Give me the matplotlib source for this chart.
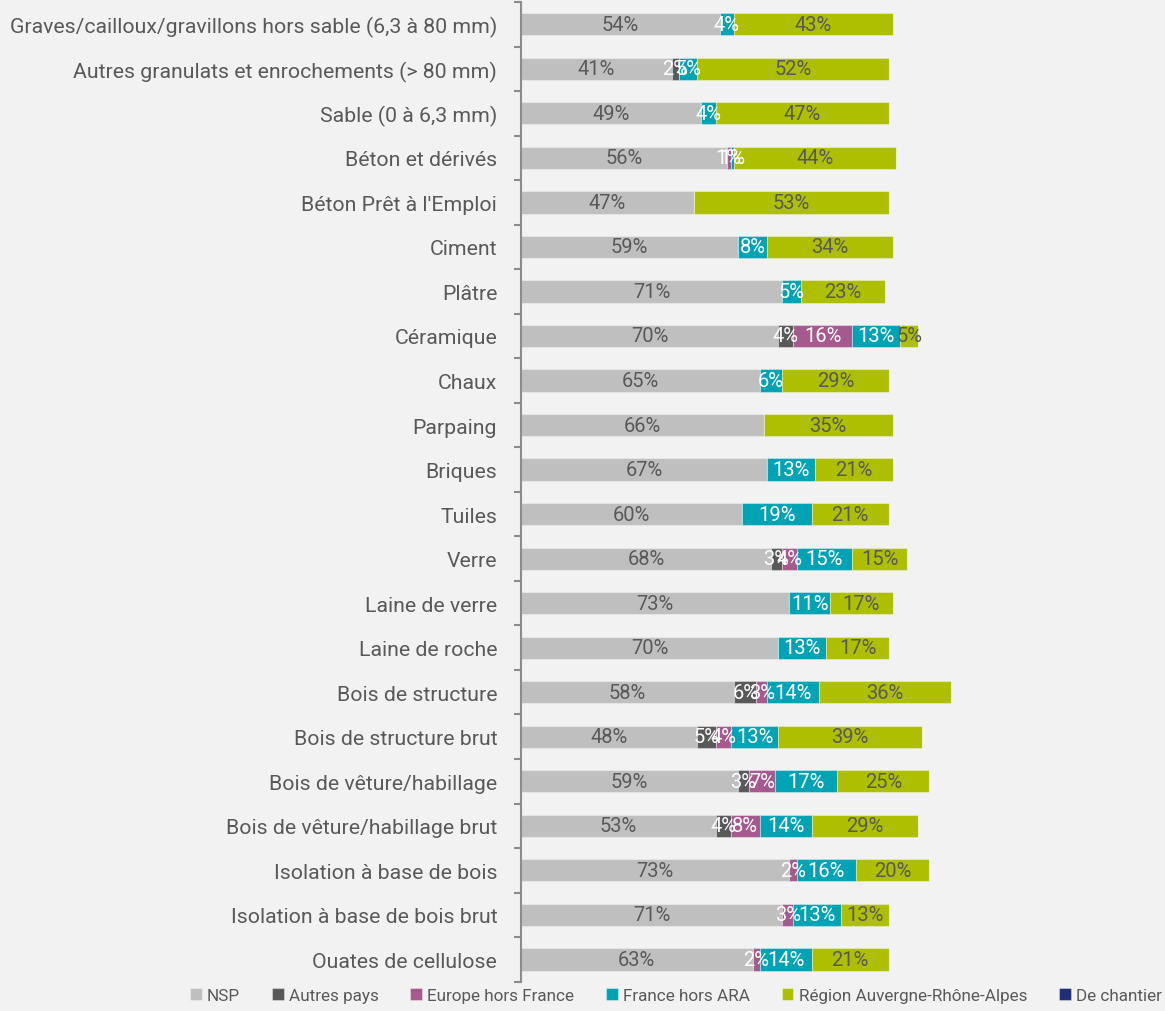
import matplotlib.pyplot as plt
import numpy as np

plt.rcParams["font.family"] = ["Roboto", "DejaVu Sans"]

categories = [
    "Graves/cailloux/gravillons hors sable (6,3 à 80 mm)",
    "Autres granulats et enrochements (> 80 mm)",
    "Sable (0 à 6,3 mm)",
    "Béton et dérivés",
    "Béton Prêt à l'Emploi",
    "Ciment",
    "Plâtre",
    "Céramique",
    "Chaux",
    "Parpaing",
    "Briques",
    "Tuiles",
    "Verre",
    "Laine de verre",
    "Laine de roche",
    "Bois de structure",
    "Bois de structure brut",
    "Bois de vêture/habillage",
    "Bois de vêture/habillage brut",
    "Isolation à base de bois",
    "Isolation à base de bois brut",
    "Ouates de cellulose",
]

nsp = [54, 41, 49, 56, 47, 59, 71, 70, 65, 66, 67, 60, 68, 73, 70, 58, 48, 59, 53, 73, 71, 63]
autres_pays = [0, 2, 0, 0, 0, 0, 0, 4, 0, 0, 0, 0, 3, 0, 0, 6, 5, 3, 4, 0, 0, 0]
europe = [0, 0, 0, 1, 0, 0, 0, 16, 0, 0, 0, 0, 4, 0, 0, 3, 4, 7, 8, 2, 3, 2]
france_hors_ara = [4, 5, 4, 1, 0, 8, 5, 13, 6, 0, 13, 19, 15, 11, 13, 14, 13, 17, 14, 16, 13, 14]
region_ara = [43, 52, 47, 44, 53, 34, 23, 5, 29, 35, 21, 21, 15, 17, 17, 36, 39, 25, 29, 20, 13, 21]
de_chantier = [0] * 22

series = [
    ("NSP", nsp, "#bfbfbf", "#595959"),
    ("Autres pays", autres_pays, "#595959", "white"),
    ("Europe hors France", europe, "#a5598f", "white"),
    ("France hors ARA", france_hors_ara, "#00a3b4", "white"),
    ("Région Auvergne-Rhône-Alpes", region_ara, "#adbf00", "#595959"),
    ("De chantier", de_chantier, "#1f2f75", "white"),
]

bg = "#f2f2f2"
fig = plt.figure(figsize=(11.65, 10.12), dpi=100, facecolor=bg)
ax = fig.add_axes([0.447, 0.029, 0.553, 0.968])
ax.set_facecolor(bg)

y = np.arange(len(categories))
left = np.zeros(len(categories))
for name, vals, color, txt_color in series:
    vals = np.array(vals, dtype=float)
    ax.barh(y, vals, left=left, height=0.5, color=color, label=name,
            edgecolor=(1, 1, 1, 0.35), linewidth=0.8)
    for yi, (l, v) in enumerate(zip(left, vals)):
        if v > 0:
            ax.text(l + v / 2, yi, f"{int(v)}%", ha="center", va="center",
                    fontsize=14.5, color=txt_color)
    left += vals

ax.set_ylim(len(categories) - 0.5, -0.5)
ax.set_xlim(0, 175)
ax.set_yticks(y)
ax.set_yticklabels(categories, fontsize=15.3, color="#595959")
ax.set_yticks(np.arange(len(categories) + 1) - 0.5, minor=True)
ax.tick_params(axis="y", which="major", length=0, pad=17)
ax.tick_params(axis="y", which="minor", length=5, color="#8c8c8c", width=1.5)
ax.set_xticks([])
for side in ["top", "right", "bottom"]:
    ax.spines[side].set_visible(False)
ax.spines["left"].set_color("#8c8c8c")
ax.spines["left"].set_linewidth(1.5)

fig.legend(loc="lower center", bbox_to_anchor=(0.58, -0.007), ncol=6,
           frameon=False, fontsize=12.3, handlelength=0.7, handleheight=0.7,
           handletextpad=0.3, columnspacing=1.85, labelcolor="#595959")

fig.savefig("out.png", dpi=100, facecolor=bg)
